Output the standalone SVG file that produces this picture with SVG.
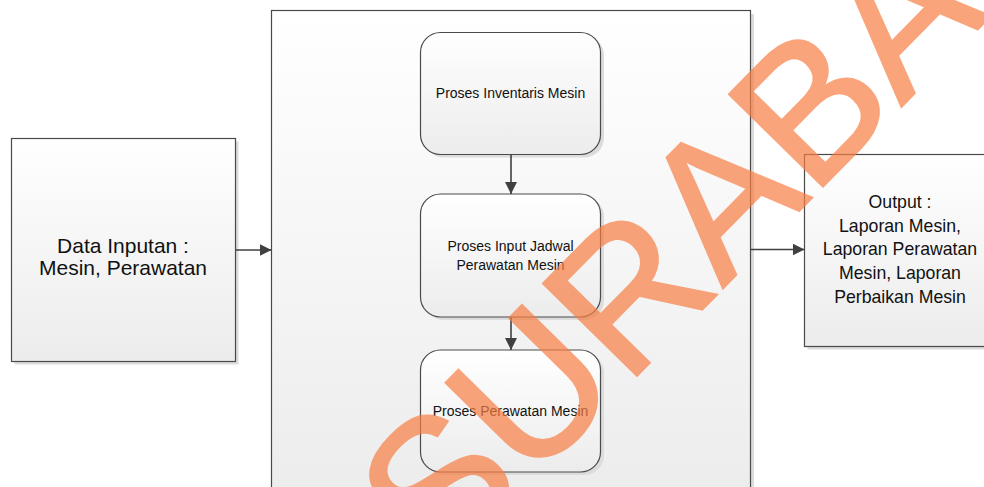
<svg xmlns="http://www.w3.org/2000/svg" width="984" height="487" viewBox="0 0 984 487">
<style>
.box{stroke:#4a4a4a;stroke-width:1.2;fill:url(#g)}
.shadow{fill:#dcdcdc}
.t{font-family:"Liberation Sans",Arial,sans-serif;fill:#111;text-anchor:middle}
.conn{stroke:#404040;stroke-width:1.6;fill:none;marker-end:url(#arr)}
.wm{font-family:"Liberation Sans",Arial,sans-serif;font-size:191px;fill:#F87E45;stroke:#F87E45;stroke-width:2.5;opacity:0.7}
</style>
<defs>
<linearGradient id="g" x1="0" y1="0" x2="0" y2="1">
<stop offset="0" stop-color="#ffffff"/>
<stop offset="1" stop-color="#ececec"/>
</linearGradient>
<marker id="arr" markerUnits="userSpaceOnUse" markerWidth="13" markerHeight="13" refX="12" refY="6" orient="auto">
<path d="M0,0 L12,6 L0,12 z" fill="#404040"/>
</marker>
</defs>
<rect width="984" height="487" fill="#ffffff"/>

<g id="container">
<rect class="shadow" x="275" y="14" width="479" height="490"/>
<rect class="box" x="271.5" y="10.5" width="479" height="490"/>
</g>

<g id="input">
<rect class="shadow" x="14.5" y="141.5" width="224" height="223"/>
<rect class="box" x="11.5" y="138.5" width="224" height="223"/>
<text class="t" font-size="21" x="123" y="253">Data Inputan :</text>
<text class="t" font-size="21" x="123" y="275">Mesin, Perawatan</text>
</g>

<g id="proses1">
<rect class="shadow" x="424" y="35.5" width="180" height="122" rx="20"/>
<rect class="box" x="420.5" y="32.5" width="180" height="122" rx="20"/>
<text class="t" font-size="14" x="510.5" y="97.5">Proses Inventaris Mesin</text>
</g>

<g id="proses2">
<rect class="shadow" x="424" y="197" width="180" height="123" rx="20"/>
<rect class="box" x="420.5" y="194" width="180" height="123" rx="20"/>
<text class="t" font-size="14" x="510.5" y="251">Proses Input Jadwal</text>
<text class="t" font-size="14" x="510.5" y="270">Perawatan Mesin</text>
</g>

<g id="proses3">
<rect class="shadow" x="424" y="353" width="180" height="122" rx="20"/>
<rect class="box" x="420.5" y="350" width="180" height="122" rx="20"/>
<text class="t" font-size="14" x="510.5" y="416">Proses Perawatan Mesin</text>
</g>

<g id="output">
<rect class="shadow" x="807.5" y="157.5" width="200" height="192"/>
<rect class="box" x="804.5" y="154.5" width="200" height="192"/>
<text class="t" font-size="17.7" x="900" y="208">Output :</text>
<text class="t" font-size="17.7" x="900" y="231.5">Laporan Mesin,</text>
<text class="t" font-size="17.7" x="900" y="255">Laporan Perawatan</text>
<text class="t" font-size="17.7" x="900" y="279">Mesin, Laporan</text>
<text class="t" font-size="17.7" x="900" y="302.5">Perbaikan Mesin</text>
</g>

<g id="connectors">
<line class="conn" x1="511" y1="154.5" x2="511" y2="194"/>
<line class="conn" x1="511" y1="317" x2="511" y2="350"/>
<line class="conn" x1="235.5" y1="250" x2="271.5" y2="250"/>
<line class="conn" x1="750.5" y1="249.5" x2="804.5" y2="249.5"/>
</g>

<g id="watermark">
<text class="wm" x="440" y="576" transform="rotate(-45.5 440 576)">SURABA</text>
</g>
</svg>
